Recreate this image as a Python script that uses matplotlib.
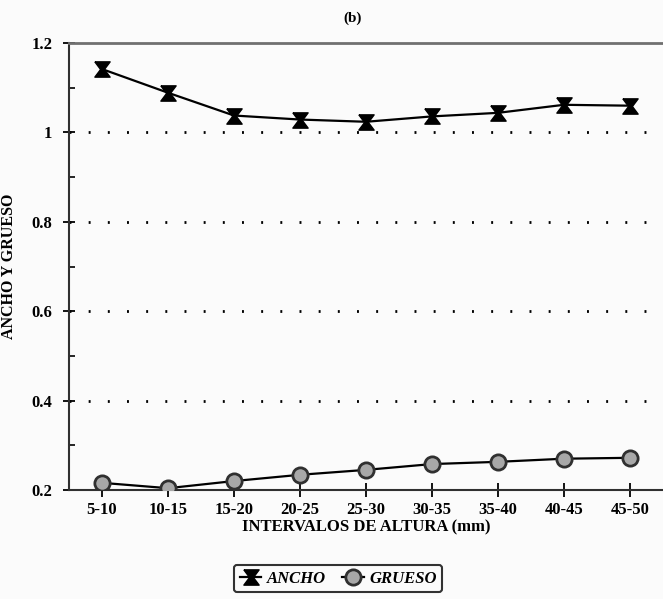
import matplotlib
matplotlib.use("Agg")
import matplotlib.pyplot as plt
from matplotlib.ticker import MultipleLocator, FuncFormatter

# Datos
intervalos = ["5-10", "10-15", "15-20", "20-25", "25-30", "30-35", "35-40", "40-45", "45-50"]
ancho = [1.142, 1.089, 1.038, 1.029, 1.024, 1.036, 1.044, 1.062, 1.060]
grueso = [0.216, 0.204, 0.220, 0.234, 0.245, 0.258, 0.263, 0.270, 0.272]
yticks = [0.2, 0.4, 0.6, 0.8, 1.0, 1.2]

plt.rcParams["font.family"] = ["Liberation Serif", "DejaVu Serif"]
plt.rcParams["font.weight"] = "bold"

fondo = "#fbfbfb"
fig = plt.figure(figsize=(6.63, 5.99), dpi=100)
fig.patch.set_facecolor(fondo)
ax = fig.add_axes([0.104, 0.182, 0.896, 0.746])
ax.set_facecolor(fondo)

x = list(range(len(intervalos)))
reloj = [(-1, 1), (1, 1), (0.25, 0), (1, -1), (-1, -1), (-0.25, 0), (-1, 1)]

ax.plot(x, ancho, color="black", lw=1.6, marker=reloj, markersize=11,
        markerfacecolor="black", markeredgecolor="black", label="ANCHO", zorder=3)
ax.plot(x, grueso, color="black", lw=1.6, marker="o", markersize=11,
        markerfacecolor="#a8a8a8", markeredgecolor="#303030", markeredgewidth=2,
        label="GRUESO", zorder=3)

ax.set_xlim(-0.5, 8.5)
ax.set_ylim(0.2, 1.2)
ax.set_xticks(x)
ax.set_xticklabels(intervalos)
ax.set_yticks(yticks)
ax.yaxis.set_minor_locator(MultipleLocator(0.1))
ax.yaxis.set_major_formatter(FuncFormatter(lambda v, p: "%g" % v))

for v in [0.4, 0.6, 0.8, 1.0]:
    ax.axhline(v, color="black", lw=2, linestyle=(0, (0.7, 6.2)), zorder=1)

ax.spines["right"].set_visible(False)
ax.spines["top"].set_color("#707070")
ax.spines["top"].set_linewidth(2)
for s in ["left", "bottom"]:
    ax.spines[s].set_color("#303030")
    ax.spines[s].set_linewidth(1.5)

ax.tick_params(axis="x", direction="inout", length=10, width=1.3, labelsize=12, pad=4)
ax.tick_params(axis="y", which="major", direction="inout", length=8, width=1.3,
               labelsize=12, pad=8)
ax.tick_params(axis="y", which="minor", direction="in", length=4, width=1.2)

ax.set_xlabel("INTERVALOS DE ALTURA (mm)", fontsize=12, fontweight="bold", labelpad=1)
ax.set_ylabel("ANCHO Y GRUESO", fontsize=11.5, fontweight="bold")
ax.yaxis.set_label_coords(-0.088, 0.5)
fig.text(0.532, 0.97, "(b)", ha="center", va="center", fontsize=11, fontweight="bold")

leg = fig.legend(loc="center", bbox_to_anchor=(0.51, 0.034), ncol=2, frameon=True,
                 prop={"style": "italic", "weight": "bold", "size": 12},
                 handlelength=1.3, handletextpad=0.3, columnspacing=1.0,
                 borderpad=0.35, fancybox=True)
leg.get_frame().set_edgecolor("black")
leg.get_frame().set_linewidth(1.5)
leg.get_frame().set_facecolor(fondo)

fig.savefig("out.png", dpi=100, facecolor=fig.get_facecolor())
